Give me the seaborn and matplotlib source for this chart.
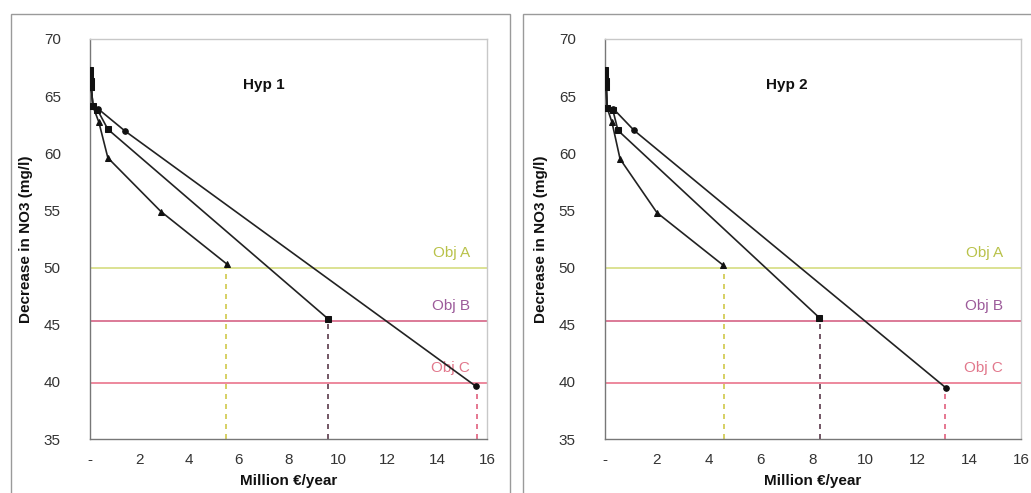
import matplotlib
matplotlib.use("Agg")
import matplotlib.pyplot as plt
import seaborn as sns
from matplotlib.patches import Rectangle

sns.set_theme(style="white")
plt.rcParams['font.family'] = ['Liberation Sans', 'DejaVu Sans']

# ---------------- data ----------------
titles = ["Hyp 1", "Hyp 2"]
obj_names = ["Obj A", "Obj B", "Obj C"]
obj_levels = [50.0, 45.3, 39.9]

# Hyp 1
h1_tri_x = [0.0, 0.01, 0.03, 0.05, 0.12, 0.36, 0.72, 2.86, 5.52]
h1_tri_y = [67.3, 66.8, 66.3, 65.8, 64.1, 62.7, 59.6, 54.9, 50.3]
h1_sq_x = [0.0, 0.01, 0.03, 0.05, 0.12, 0.30, 0.72, 9.60]
h1_sq_y = [67.3, 66.8, 66.3, 65.8, 64.1, 63.8, 62.1, 45.5]
h1_ci_x = [0.0, 0.01, 0.03, 0.05, 0.12, 0.32, 1.41, 15.56]
h1_ci_y = [67.3, 66.8, 66.3, 65.8, 64.1, 63.9, 61.95, 39.6]

# Hyp 2
h2_tri_x = [0.0, 0.01, 0.03, 0.05, 0.08, 0.27, 0.58, 2.00, 4.55]
h2_tri_y = [67.3, 66.8, 66.3, 65.8, 64.0, 62.7, 59.5, 54.8, 50.2]
h2_sq_x = [0.0, 0.01, 0.03, 0.05, 0.08, 0.30, 0.50, 8.25]
h2_sq_y = [67.3, 66.8, 66.3, 65.8, 64.0, 63.8, 62.0, 45.6]
h2_ci_x = [0.0, 0.01, 0.03, 0.05, 0.08, 0.32, 1.12, 13.10]
h2_ci_y = [67.3, 66.8, 66.3, 65.8, 64.0, 63.9, 62.0, 39.5]

# cost needed to reach each objective (vertical dashed lines)
h1_reach_x = [5.50, 9.58, 15.58]
h2_reach_x = [4.58, 8.28, 13.08]

x_ticks = [0, 2, 4, 6, 8, 10, 12, 14, 16]
x_ticklabels = ["-", "2", "4", "6", "8", "10", "12", "14", "16"]
y_ticks = [35, 40, 45, 50, 55, 60, 65, 70]

panels = [
    dict(title=titles[0], series=[(h1_tri_x, h1_tri_y, "^"), (h1_sq_x, h1_sq_y, "s"), (h1_ci_x, h1_ci_y, "o")],
         reach=h1_reach_x, ends=[h1_tri_y[-1], h1_sq_y[-1], h1_ci_y[-1]]),
    dict(title=titles[1], series=[(h2_tri_x, h2_tri_y, "^"), (h2_sq_x, h2_sq_y, "s"), (h2_ci_x, h2_ci_y, "o")],
         reach=h2_reach_x, ends=[h2_tri_y[-1], h2_sq_y[-1], h2_ci_y[-1]]),
]

obj_line_colors = ["#d9df8a", "#d9708f", "#ec7f95"]
obj_text_colors = ["#b9c24a", "#9c5b9a", "#e2788c"]
vline_colors = ["#cfc84a", "#5a3a4a", "#e0607e"]

fig = plt.figure(figsize=(10.31, 4.93), dpi=100)

# chart-area frames
fig.patches.append(Rectangle((0.0107, -0.02), 0.484, 0.9916, transform=fig.transFigure,
                             fill=False, edgecolor="#9a9a9a", linewidth=1.0))
fig.patches.append(Rectangle((0.5072, -0.02), 0.50, 0.9916, transform=fig.transFigure,
                             fill=False, edgecolor="#9a9a9a", linewidth=1.0))

axes_pos = [[0.0873, 0.1095, 0.3851, 0.8114], [0.5868, 0.1095, 0.4035, 0.8114]]

for pos, p in zip(axes_pos, panels):
    ax = fig.add_axes(pos)
    ax.set_xlim(0, 16)
    ax.set_ylim(35, 70)

    # objective lines
    for lvl, lc, tc, name in zip(obj_levels, obj_line_colors, obj_text_colors, obj_names):
        ax.axhline(lvl, color=lc, linewidth=1.3, zorder=1)
        ax.text(15.3, lvl + 1.3, name, color=tc, fontsize=11, ha="right", va="center", zorder=2)

    # vertical dashed lines to the x-axis
    for xr, ye, vc in zip(p["reach"], p["ends"], vline_colors):
        ax.plot([xr, xr], [35, ye], linestyle=(0, (3, 3)), color=vc, linewidth=1.2, zorder=1)

    for sx, sy, mk in p["series"]:
        sns.lineplot(x=sx, y=sy, ax=ax, sort=False, estimator=None, color="#222222",
                     linewidth=1.2, marker=mk, markersize=4, markeredgecolor="#111111",
                     markerfacecolor="#111111", zorder=3)

    ax.text(7.0, 66.0, p["title"], fontsize=11, fontweight="bold", ha="center", va="center", color="#111111")

    ax.set_xticks(x_ticks)
    ax.set_xticklabels(x_ticklabels)
    ax.set_yticks(y_ticks)
    ax.tick_params(axis="both", labelsize=11, colors="#333333", length=4, width=0.8, direction="out")
    ax.tick_params(axis="x", direction="inout", pad=8)
    ax.tick_params(axis="y", pad=17)
    ax.set_xlabel("Million €/year", fontsize=11, fontweight="bold", color="#111111", labelpad=5)
    ax.set_ylabel("Decrease in NO3 (mg/l)", fontsize=11, fontweight="bold", color="#111111", labelpad=8)

    for side in ["left", "bottom"]:
        ax.spines[side].set_color("#777777")
        ax.spines[side].set_linewidth(1.0)
    for side in ["top", "right"]:
        ax.spines[side].set_color("#c8c8c8")
        ax.spines[side].set_linewidth(1.0)

fig.savefig("out.png", dpi=100)
